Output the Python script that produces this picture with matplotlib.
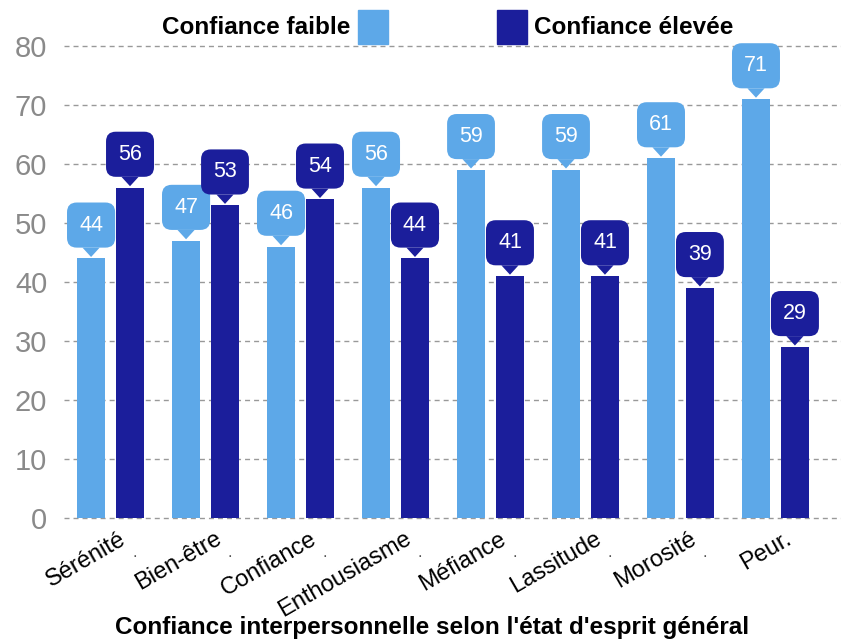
import matplotlib
matplotlib.use("Agg")
import matplotlib.pyplot as plt
from matplotlib.patches import Rectangle
import numpy as np

plt.rcParams['font.family'] = ['Liberation Sans', 'DejaVu Sans']

# donnees
etats = ['Sérénité', 'Bien-être', 'Confiance', 'Enthousiasme',
         'Méfiance', 'Lassitude', 'Morosité', 'Peur.']
conf_faible = [44, 47, 46, 56, 59, 59, 61, 71]
conf_elevee = [56, 53, 54, 44, 41, 41, 39, 29]
y_ticks = [0, 10, 20, 30, 40, 50, 60, 70, 80]

c_faible = '#5DA8E8'
c_elevee = '#1B1E9B'

fig = plt.figure(figsize=(8.41, 6.42), dpi=100)
ax = fig.add_axes([64/841, 124/642, 1 - 64/841, (518-46)/642])

x = np.arange(len(etats))
w = 0.295
dx = 0.205

ax.bar(x - dx, conf_faible, w, color=c_faible, zorder=3)
ax.bar(x + dx, conf_elevee, w, color=c_elevee, zorder=3)

# bulles de valeurs
def bulle(xx, v, col):
    ax.annotate(str(v), xy=(xx, v), xytext=(0, 24), textcoords='offset points',
                ha='center', va='center', color='white', fontsize=15.5,
                annotation_clip=False, zorder=5,
                bbox=dict(boxstyle='round,pad=0.56,rounding_size=0.45', fc=col, ec='none'),
                arrowprops=dict(arrowstyle='wedge,tail_width=0.8,shrink_factor=0.5',
                                fc=col, ec='none', shrinkA=0, shrinkB=1))

for i in range(len(etats)):
    bulle(x[i] - dx, conf_faible[i], c_faible)
    bulle(x[i] + dx, conf_elevee[i], c_elevee)

ax.set_ylim(0, 80)
ax.set_xlim(-0.49, 7.69)
ax.set_yticks(y_ticks)
ax.set_yticklabels([str(t) for t in y_ticks], color='#8a8a8a', fontsize=21)
ax.yaxis.grid(True, color='#999999', linestyle=(0, (3.6, 2.9)), linewidth=1, zorder=0)
for gl in ax.get_ygridlines():
    gl.set_clip_on(False)
ax.tick_params(axis='y', length=0, pad=12)
for s in ax.spines.values():
    s.set_visible(False)

ax.set_xticks(x + 0.09)
ax.set_xticklabels(etats, rotation=30, ha='right', rotation_mode='anchor', fontsize=17)
ax.tick_params(axis='x', length=0, pad=7)

# petits points sous l'axe
for i in range(len(etats) - 1):
    ax.text(x[i] + 0.26, -5.8, '.', ha='center', va='center', fontsize=12,
            color='#555555', clip_on=False)

fig.text(0.514, 0.022, "Confiance interpersonnelle selon l'état d'esprit général",
         ha='center', va='center', fontsize=17.5, fontweight='bold')

# legende
fig.text(350/841, 1 - 27/642, 'Confiance faible', ha='right', va='center',
         fontsize=17.5, fontweight='bold')
fig.patches.append(Rectangle((358/841, 1 - 44/642), 30/841, 34/642,
                             transform=fig.transFigure, color=c_faible))
fig.patches.append(Rectangle((497/841, 1 - 44/642), 30/841, 34/642,
                             transform=fig.transFigure, color=c_elevee))
fig.text(534/841, 1 - 27/642, 'Confiance élevée', ha='left', va='center',
         fontsize=17.5, fontweight='bold')

fig.savefig('out.png', dpi=100)
